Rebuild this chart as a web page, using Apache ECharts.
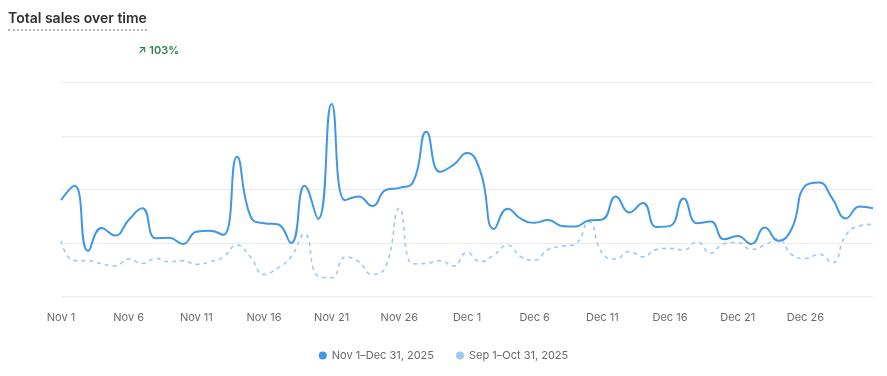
<!DOCTYPE html>
<html>
<head>
<meta charset="utf-8">
<script src="https://cdn.jsdelivr.net/npm/echarts@6/dist/echarts.min.js"></script>
<style>
  html, body { margin: 0; padding: 0; background: #fff; font-family: Inter, "Noto Sans", sans-serif; }
  #wrap { position: relative; width: 887px; height: 376px; }
  #title { position: absolute; left: 8px; top: 9px; font-size: 14px; font-weight: 600; color: #303030;
    border-bottom: 2px dotted #b5b5b5; padding-bottom: 3px; line-height: 17px; }
  #delta { position: absolute; left: 138px; top: 43px; font-size: 11px; font-weight: 600; color: #2f7d4e; }
  #chart { position: absolute; left: 0; top: 0; width: 887px; height: 376px; }
</style>
</head>
<body>
<div id="wrap">
  <div id="chart"></div>
  <div id="title">Total sales over time</div>
  <div id="delta">&#8599; 103%</div>
</div>
<script>
var days = [
  'Nov 1','Nov 2','Nov 3','Nov 4','Nov 5','Nov 6','Nov 7','Nov 8','Nov 9','Nov 10',
  'Nov 11','Nov 12','Nov 13','Nov 14','Nov 15','Nov 16','Nov 17','Nov 18','Nov 19','Nov 20',
  'Nov 21','Nov 22','Nov 23','Nov 24','Nov 25','Nov 26','Nov 27','Nov 28','Nov 29','Nov 30',
  'Dec 1','Dec 2','Dec 3','Dec 4','Dec 5','Dec 6','Dec 7','Dec 8','Dec 9','Dec 10',
  'Dec 11','Dec 12','Dec 13','Dec 14','Dec 15','Dec 16','Dec 17','Dec 18','Dec 19','Dec 20',
  'Dec 21','Dec 22','Dec 23','Dec 24','Dec 25','Dec 26','Dec 27','Dec 28','Dec 29','Dec 30','Dec 31'
];

// current period
var current = [
  180, 207, 85, 128, 114, 143, 165, 109, 110, 98,
  121, 123, 115, 261, 150, 137, 135, 100, 207, 145,
  360, 180, 187, 169, 199, 203, 213, 308, 233, 246,
  268, 233, 126, 164, 145, 138, 143, 132, 131, 142,
  144, 187, 157, 175, 130, 132, 183, 137, 140, 107,
  113, 98, 129, 104, 127, 207, 213, 183, 146, 168, 165
];

// comparison period
var previous = [
  104, 67, 67, 61, 57, 70, 62, 71, 65, 67,
  60, 65, 74, 96, 74, 41, 53, 74, 117, 38,
  35, 74, 65, 41, 56, 165, 61, 62, 67, 57,
  82, 65, 78, 96, 74, 68, 88, 94, 98, 140,
  81, 70, 84, 74, 88, 90, 87, 102, 81, 99,
  101, 88, 96, 108, 78, 71, 79, 63, 115, 132, 135
];

var seriesNames = ['Nov 1\u2013Dec 31, 2025', 'Sep 1\u2013Oct 31, 2025'];
var colors = ['#3f97e5', '#9fc8ee'];

var myChart = echarts.init(document.getElementById('chart'));
var option = {
  animation: false,
  textStyle: { fontFamily: 'Inter, "Noto Sans", sans-serif' },
  color: colors,
  grid: { left: 61, right: 14, top: 82.5, bottom: 79.5 },
  legend: {
    bottom: 10,
    left: 'center',
    icon: 'circle',
    itemWidth: 8,
    itemHeight: 8,
    itemGap: 22,
    textStyle: { color: '#6a6a6a', fontSize: 11 },
    data: seriesNames
  },
  xAxis: {
    type: 'category',
    boundaryGap: false,
    data: days,
    axisLine: { show: false },
    axisTick: { show: false },
    axisLabel: {
      // every 5th day, last day left out
      interval: function (idx) { return idx % 5 === 0 && idx < days.length - 1; },
      color: '#6b6b6b',
      fontSize: 11,
      margin: 16
    }
  },
  yAxis: {
    type: 'value',
    min: 0,
    max: 400,
    interval: 100,
    axisLabel: { show: false },
    axisLine: { show: false },
    axisTick: { show: false },
    splitLine: { lineStyle: { color: '#ebebeb', width: 1 } }
  },
  series: [
    {
      name: seriesNames[0],
      type: 'line',
      data: current,
      smooth: 0.5,
      symbol: 'none',
      z: 3,
      lineStyle: { width: 2, color: colors[0] }
    },
    {
      name: seriesNames[1],
      type: 'line',
      data: previous,
      smooth: 0.5,
      symbol: 'none',
      z: 2,
      lineStyle: { width: 1.6, color: colors[1], type: [4, 4] }
    }
  ]
};
myChart.setOption(option);
</script>
</body>
</html>
